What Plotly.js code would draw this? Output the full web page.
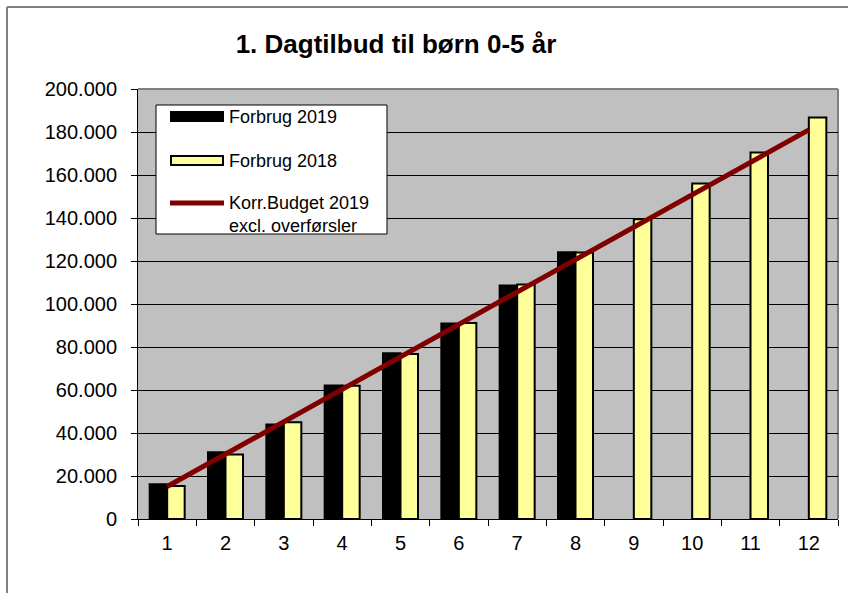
<!DOCTYPE html>
<html>
<head>
<meta charset="utf-8">
<script src="https://cdn.plot.ly/plotly-3.0.1.min.js"></script>
<style>
html,body{margin:0;padding:0;background:#ffffff;}
#chart{width:848px;height:593px;}
</style>
</head>
<body>
<div id="chart"></div>
<script>
// Data
const months = ["1","2","3","4","5","6","7","8","9","10","11","12"];
const forbrug2019 = [16200, 31100, 44000, 62100, 77100, 90900, 108600, 124100, null, null, null, null];
const forbrug2018 = [15400, 30000, 45000, 62000, 76800, 91200, 109100, 123900, 139400, 156000, 170500, 186800];
const budget2019 = [15100, 30200, 45200, 60300, 75400, 90500, 105600, 120700, 135700, 150800, 165900, 181000];
const seriesNames = ["Forbrug 2019", "Forbrug 2018", "Korr.Budget 2019<br>excl. overførsler"];
const titleText = "1. Dagtilbud til børn 0-5 år";

const W = 848, H = 593;
const L = 138, R = 10, T = 89, B = 74;
const pw = W - L - R, ph = H - T - B;
function px(x){ return (x - L) / pw; }
function py(y){ return (H - B - y) / ph; }

const traces = [
  {type:'bar', name:seriesNames[0], x:months, y:forbrug2019,
   marker:{color:'#000000', line:{color:'#000000', width:2}}, showlegend:false, hoverinfo:'skip'},
  {type:'bar', name:seriesNames[1], x:months, y:forbrug2018,
   marker:{color:'#ffff99', line:{color:'#000000', width:2}}, showlegend:false, hoverinfo:'skip'},
  {type:'scatter', mode:'lines', name:seriesNames[2], x:months, y:budget2019,
   line:{color:'#800000', width:5}, showlegend:false, hoverinfo:'skip'}
];

const font = "Liberation Sans, Arial, sans-serif";
const legFont = {family:font, size:18, color:'#000000'};

const shapes = [
  // outer frame lines
  {type:'line', xref:'paper', yref:'paper', x0:px(7), x1:px(848), y0:py(7), y1:py(7),
   line:{color:'#808080', width:2}},
  {type:'line', xref:'paper', yref:'paper', x0:px(7), x1:px(7), y0:py(7), y1:py(593),
   line:{color:'#808080', width:2}},
  // plot area border (top/right gray)
  {type:'line', xref:'paper', yref:'paper', x0:0, x1:1, y0:1, y1:1, layer:'below',
   line:{color:'#808080', width:2}},
  {type:'line', xref:'paper', yref:'paper', x0:1, x1:1, y0:0, y1:1, layer:'below',
   line:{color:'#808080', width:2}},
  // legend box
  {type:'rect', xref:'paper', yref:'paper', x0:px(156), x1:px(387), y0:py(234), y1:py(105),
   fillcolor:'#ffffff', line:{color:'#000000', width:1}, layer:'above'},
  {type:'rect', xref:'paper', yref:'paper', x0:px(171), x1:px(223), y0:py(121), y1:py(112),
   fillcolor:'#000000', line:{color:'#000000', width:2}, layer:'above'},
  {type:'rect', xref:'paper', yref:'paper', x0:px(171), x1:px(223), y0:py(165), y1:py(156),
   fillcolor:'#ffff99', line:{color:'#000000', width:2}, layer:'above'},
  {type:'line', xref:'paper', yref:'paper', x0:px(170), x1:px(224), y0:py(203), y1:py(203),
   line:{color:'#800000', width:5}, layer:'above'}
];

const annotations = [
  {xref:'paper', yref:'paper', x:px(227), y:py(116.5), xanchor:'left', yanchor:'middle',
   text:seriesNames[0], showarrow:false, font:legFont, align:'left'},
  {xref:'paper', yref:'paper', x:px(227), y:py(160.5), xanchor:'left', yanchor:'middle',
   text:seriesNames[1], showarrow:false, font:legFont, align:'left'},
  {xref:'paper', yref:'paper', x:px(227), y:py(214), xanchor:'left', yanchor:'middle',
   text:seriesNames[2], showarrow:false, font:legFont, align:'left'}
];

const layout = {
  width:W, height:H,
  margin:{l:L, r:R, t:T, b:B, pad:0},
  paper_bgcolor:'#ffffff',
  plot_bgcolor:'#c0c0c0',
  separators:',.',
  font:{family:font, color:'#000000', size:20},
  title:{text:'<b>'+titleText+'</b>', font:{family:font, size:26, color:'#000000'},
         x:396/W, xanchor:'center', xref:'container', y:1-44/H, yanchor:'middle', yref:'container'},
  barmode:'group', bargap:0.4, bargroupgap:0,
  showlegend:false,
  hovermode:false,
  xaxis:{type:'category', tickson:'boundaries', ticks:'outside', ticklen:6, tickcolor:'#000000',
         showline:true, linecolor:'#000000', linewidth:1, showgrid:false, zeroline:false,
         ticklabelstandoff:6,
         tickfont:{family:font, size:20, color:'#000000'}, fixedrange:true},
  yaxis:{range:[0,200000], dtick:20000, tickformat:',d', ticks:'outside', ticklen:6, tickcolor:'#000000',
         showline:true, linecolor:'#000000', linewidth:1, showgrid:true, gridcolor:'#000000', gridwidth:1,
         zeroline:false, ticklabelstandoff:10,
         tickfont:{family:font, size:20, color:'#000000'}, fixedrange:true},
  shapes:shapes,
  annotations:annotations
};

Plotly.newPlot('chart', traces, layout, {displayModeBar:false, staticPlot:true});
</script>
</body>
</html>
